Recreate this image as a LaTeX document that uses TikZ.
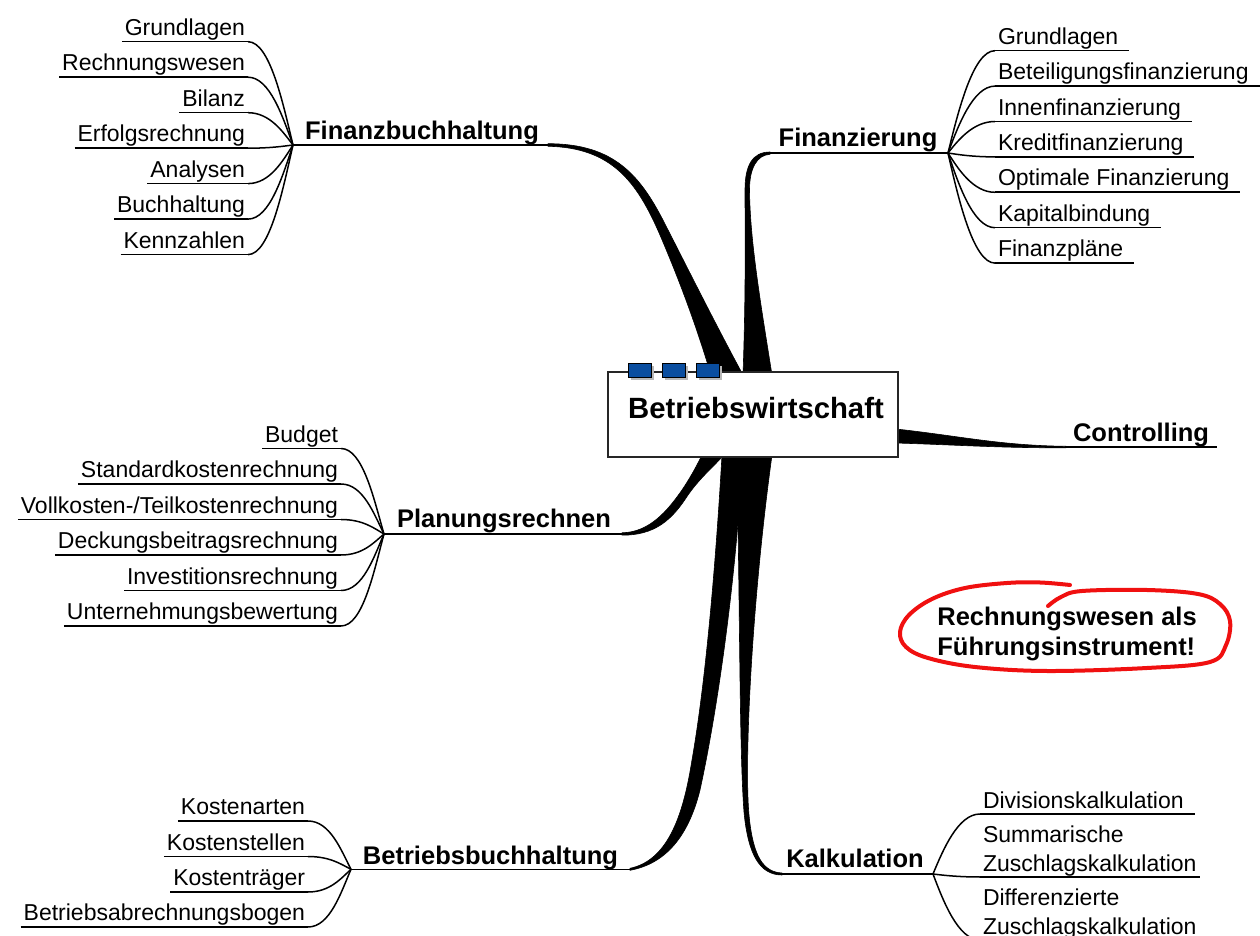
\documentclass[tikz,border=0pt]{standalone}
\usepackage{fontspec}
\setmainfont{Liberation Sans}
\definecolor{sqblue}{RGB}{10,78,160}
\definecolor{notered}{RGB}{240,16,16}
\begin{document}
\begin{tikzpicture}[x=0.5pt,y=-0.5pt,
  sub/.style={font=\fontsize{11.5}{14.5}\selectfont, inner xsep=1.5pt, inner ysep=3.2pt, text depth=0pt, outer sep=0pt, align=left},
  subl/.style={sub, anchor=south east},
  subr/.style={sub, anchor=south west},
  kal/.style={sub, anchor=south west, inner ysep=2.8pt},
  br/.style={font=\bfseries\fontsize{12.75}{15}\selectfont, inner sep=0pt, anchor=base},
  note/.style={font=\bfseries\fontsize{12.75}{15}\selectfont, inner sep=0pt, anchor=base west},
  ul/.style={line width=0.8pt},
  fan/.style={line width=0.75pt},
  wedge/.style={fill=black, draw=black, line width=0.3pt, line join=round},
  sq/.style={draw=black, line width=0.5pt, fill=sqblue, minimum width=11.5pt, minimum height=7pt, inner sep=0pt},
  sqsh/.style={fill=black!28, minimum width=11.5pt, minimum height=7pt, inner sep=0pt},
  mainbox/.style={draw=black!85, line width=0.6pt, fill=white, minimum width=145pt, minimum height=42.5pt, inner sep=0pt},
]
\useasboundingbox (0,0) rectangle (1260,936);
\clip (0,0) rectangle (1260,936);

% ---------- thick tapered branches ----------
% Finanzbuchhaltung
\path[wedge] (548,146.3) .. controls (612,147.5) and (637,182) .. (660,235) .. controls (680,282) and (696,325) .. (711,375) -- (743,375) .. controls (716,325) and (691,275) .. (666,226) .. controls (641,176) and (615,143.7) .. (548,143.7) -- cycle;
% Finanzierung
\path[wedge] (743,375) .. controls (746,290) and (745,230) .. (745,190) .. controls (745,166) and (752,152) .. (770,152) -- (770,154.3) .. controls (757,155) and (749.5,168) .. (749.5,190) .. controls (750,240) and (760,300) .. (772,375) -- cycle;
% Controlling
\path[wedge] (896,429) .. controls (960,436) and (1000,445.5) .. (1066,446.3) -- (1066,447.8) .. controls (1000,448) and (960,445) .. (896,443) -- cycle;
% Planungsrechnen
\path[wedge] (622,532.8) .. controls (650,532.3) and (668,510) .. (682,490) .. controls (692,475) and (697,465) .. (702,455) -- (724,455) .. controls (712,468) and (700,478) .. (688,495) .. controls (672,520) and (655,535.3) .. (622,535.2) -- cycle;
% Betriebsbuchhaltung
\path[wedge] (722,455) .. controls (716,560) and (706,680) .. (692,760) .. controls (684,810) and (670,860) .. (630,868.3) -- (630,870.3) .. controls (670,863) and (690,830) .. (700,790) .. controls (712,735) and (728,640) .. (738,523) -- (745,455) -- cycle;
% Kalkulation
\path[wedge] (740,455) -- (738,523) .. controls (740,650) and (740,760) .. (744,812) .. controls (748,855) and (760,875) .. (782,875) -- (782,873) .. controls (764,872) and (753,858) .. (749,815) .. controls (744,760) and (752,600) .. (772,455) -- cycle;

% ---------- central node ----------
\node[mainbox] (bw) at (753,414.5) {};
\node[font=\bfseries\fontsize{14.65}{17}\selectfont, inner sep=0pt, anchor=base] (bwt) at (756,419) {Betriebswirtschaft};
\foreach \x [count=\i] in {639.5,674,707.5} {
  \node[sqsh] (sh\i) at (\x+2.5,373.5) {};
  \node[sq] (sq\i) at (\x,371) {};
}

% ---------- Finanzbuchhaltung ----------
\node[br] (fbh) at (422,139.5) {Finanzbuchhaltung};
\coordinate (F1) at (293,145);
\coordinate (E1) at (550,145);
\draw[ul] (F1) -- (E1);
\foreach \n/\t/\y in {a1/Grundlagen/41.7, a2/Rechnungswesen/77.2, a3/Bilanz/112.7, a4/Erfolgsrechnung/148.2, a5/Analysen/183.6, a6/Buchhaltung/219.1, a7/Kennzahlen/254.6} {
  \node[subl] (\n) at (248,\y) {\t};
  \draw[ul] (\n.south west) -- (\n.south east);
  \draw[fan] (\n.south east) .. controls +(22,0) and +(-10,{(\y-145)*0.4}) .. (F1);
}

% ---------- Finanzierung ----------
\node[br] (fin) at (858,147) {Finanzierung};
\coordinate (F2) at (948,153);
\coordinate (E2) at (770,153);
\draw[ul] (E2) -- (F2);
\foreach \n/\t/\y in {b1/Grundlagen/50.7, b2/Beteiligungsfinanzierung/86.1, b3/Innenfinanzierung/121.5, b4/Kreditfinanzierung/156.9, b5/Optimale Finanzierung/192.3, b6/Kapitalbindung/227.7, b7/Finanzpläne/263.1} {
  \node[subr] (\n) at (995,\y) {\t\hspace{4pt}};
  \draw[ul] (\n.south west) -- (\n.south east);
  \draw[fan] (F2) .. controls +(10,{(\y-153)*0.4}) and +(-22,0) .. (\n.south west);
}

% ---------- Controlling ----------
\node[br] (ctl) at (1141,441.5) {Controlling};
\coordinate (E3) at (1065,447);
\coordinate (R3) at (1217,447);
\draw[ul] (E3) -- (R3);

% ---------- Planungsrechnen ----------
\node[br] (plr) at (504,528) {Planungsrechnen};
\coordinate (F4) at (384,534);
\coordinate (E4) at (624,534);
\draw[ul] (F4) -- (E4);
\foreach \n/\t/\y in {c1/Budget/448.5, c2/Standardkostenrechnung/484, c3/{Vollkosten-/Teilkostenrechnung}/519.5, c4/Deckungsbeitragsrechnung/555, c5/Investitionsrechnung/590.5, c6/Unternehmungsbewertung/626} {
  \node[subl] (\n) at (341,\y) {\t};
  \draw[ul] (\n.south west) -- (\n.south east);
  \draw[fan] (\n.south east) .. controls +(22,0) and +(-10,{(\y-534)*0.4}) .. (F4);
}

% ---------- Betriebsbuchhaltung ----------
\node[br] (bbh) at (490.5,864) {Betriebsbuchhaltung};
\coordinate (F5) at (351,869.3);
\coordinate (E5) at (632,869.3);
\draw[ul] (F5) -- (E5);
\foreach \n/\t/\y in {d1/Kostenarten/821, d2/Kostenstellen/856.5, d3/Kostenträger/892, d4/Betriebsabrechnungsbogen/927} {
  \node[subl] (\n) at (308,\y) {\t};
  \draw[ul] (\n.south west) -- (\n.south east);
  \draw[fan] (\n.south east) .. controls +(22,0) and +(-10,{(\y-869.3)*0.4}) .. (F5);
}

% ---------- Kalkulation ----------
\node[br] (kal) at (855,867.5) {Kalkulation};
\coordinate (F6) at (933,874);
\coordinate (E6) at (780,874);
\draw[ul] (E6) -- (F6);
\node[kal] (k1) at (980,814) {Divisionskalkulation\hspace{4pt}};
\node[kal] (k2) at (980,877) {Summarische\\Zuschlagskalkulation\hspace{4pt}};
\node[kal] (k3) at (980,940) {Differenzierte\\Zuschlagskalkulation\hspace{4pt}};
\foreach \n/\y in {k1/814, k2/877, k3/940} {
  \draw[ul] (\n.south west) -- (\n.south east);
  \draw[fan] (F6) .. controls +(10,{(\y-874)*0.4}) and +(-22,0) .. (\n.south west);
}

% ---------- red note ----------
\node[note] (n1) at (937,625.7) {Rechnungswesen als};
\node[note] (n2) at (937,655) {Führungsinstrument!};
\draw[notered, line width=2pt, line cap=round, line join=round]
  plot[smooth, tension=0.6] coordinates {(1070,585) (1040,582.5) (1007,583) (965,588) (932,599) (909,615) (900,632) (906,647) (928,658) (975,667) (1047,671) (1147,668) (1210,662) (1226,645) (1230,621) (1220,604) (1198,594) (1147,590) (1082,591) (1061,597) (1048,606)};
\end{tikzpicture}
\end{document}
